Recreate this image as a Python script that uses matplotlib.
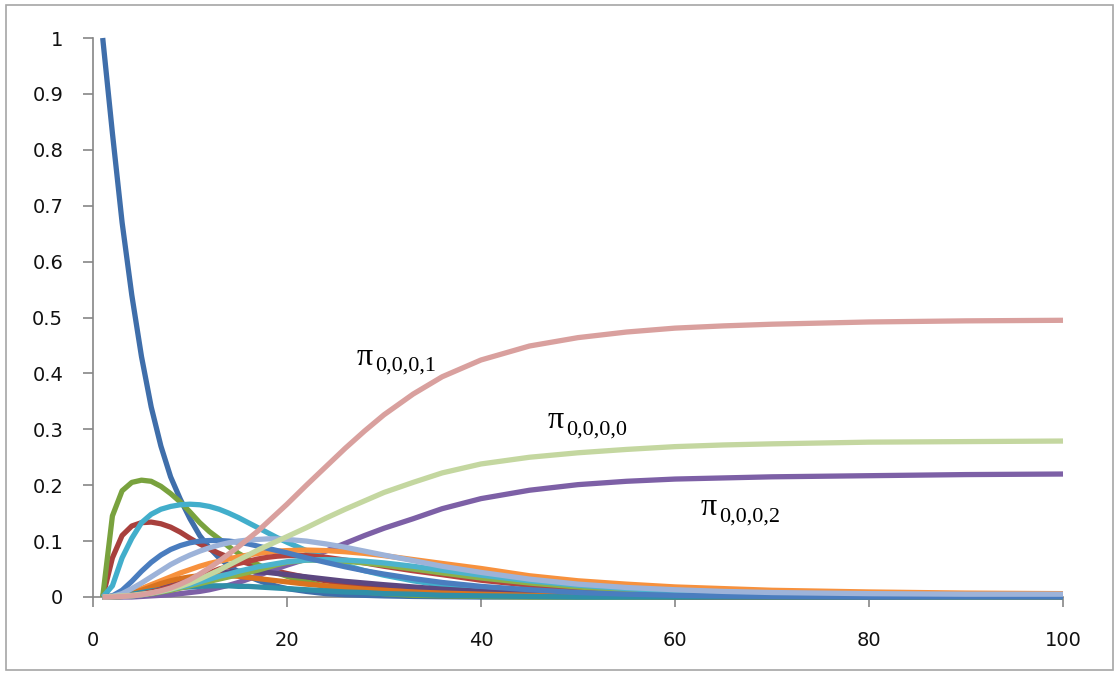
import matplotlib
matplotlib.use("Agg")
import matplotlib.pyplot as plt
from matplotlib.patches import Rectangle

# time steps shared by every series
t = [1, 2, 3, 4, 5, 6, 7, 8, 9, 10, 11, 12, 13, 14, 15, 16, 17, 18, 19, 20,
     22, 24, 26, 28, 30, 33, 36, 40, 45, 50, 55, 60, 65, 70, 80, 90, 100]

p_start = [1.0, .83, .67, .54, .43, .34, .27, .215, .175, .14,
           .11, .088, .07, .056, .045, .037, .03, .024, .019, .015,
           .01, .006, .004, .003, .002, .001, .0005, 0,
           0, 0, 0, 0, 0, 0, 0, 0, 0]
p_green = [0, .145, .19, .205, .209, .207, .198, .185, .17, .152,
           .133, .117, .104, .09, .078, .068, .058, .05, .043, .037,
           .027, .019, .013, .009, .006, .003, .002, .001,
           0, 0, 0, 0, 0, 0, 0, 0, 0]
p_red = [0, .07, .11, .127, .133, .134, .131, .125, .116, .105,
         .095, .086, .078, .071, .065, .06, .055, .05, .046, .042,
         .035, .029, .024, .02, .016, .012, .009, .006,
         .003, .002, .001, 0, 0, 0, 0, 0, 0]
p_0002 = [0, 0, 0, 0, .001, .002, .003, .004, .006, .008,
          .01, .013, .017, .021, .026, .032, .038, .045, .051, .057,
          .068, .082, .096, .11, .123, .14, .158, .176,
          .191, .201, .207, .211, .213, .215, .217, .219, .22]
p_cyan = [0, .02, .07, .105, .133, .148, .157, .162, .165, .166,
          .165, .162, .157, .15, .142, .133, .124, .115, .106, .098,
          .083, .069, .057, .047, .039, .029, .021, .014,
          .008, .005, .003, .002, .001, 0, 0, 0, 0]
p_orange = [0, .001, .004, .009, .015, .022, .029, .036, .043, .049,
            .055, .06, .064, .068, .072, .075, .078, .08, .082, .083,
            .084, .083, .081, .078, .074, .067, .06, .051,
            .038, .029, .023, .018, .015, .012, .009, .007, .006]
p_dpurple = [0, .001, .002, .004, .008, .013, .018, .023, .028, .033,
             .037, .04, .043, .045, .046, .046, .045, .044, .042, .04,
             .036, .032, .028, .025, .022, .018, .014, .01,
             .006, .004, .002, .001, 0, 0, 0, 0, 0]
p_dorange = [0, .001, .003, .007, .012, .018, .024, .029, .033, .036,
             .038, .039, .039, .038, .037, .035, .033, .031, .029, .027,
             .023, .02, .017, .014, .012, .009, .007, .005,
             .003, .002, .001, .001, 0, 0, 0, 0, 0]
p_teal = [0, .001, .002, .005, .008, .011, .013, .015, .017, .018,
          .019, .02, .02, .02, .019, .019, .018, .017, .016, .015,
          .013, .011, .009, .008, .006, .005, .003, .002,
          .001, 0, 0, 0, 0, 0, 0, 0, 0]
p_red2 = [0, 0, .001, .003, .005, .009, .013, .018, .024, .03,
          .037, .043, .05, .055, .06, .064, .068, .071, .073, .074,
          .074, .071, .066, .061, .055, .047, .04, .03,
          .021, .014, .009, .006, .004, .003, .001, .001, 0]
p_olive = [0, 0, .001, .002, .004, .006, .009, .012, .016, .02,
           .024, .028, .032, .036, .04, .044, .048, .053, .058, .062,
           .066, .066, .064, .061, .057, .05, .043, .034,
           .025, .018, .012, .008, .005, .003, .001, 0, 0]
p_cyan2 = [0, 0, .001, .002, .004, .007, .01, .014, .018, .022,
           .027, .032, .037, .041, .046, .05, .054, .057, .06, .063,
           .066, .067, .066, .064, .061, .055, .048, .039,
           .029, .021, .015, .01, .007, .005, .002, .001, .001]
p_blue = [0, .002, .012, .028, .046, .062, .075, .085, .092, .097,
          .1, .101, .101, .1, .098, .095, .091, .087, .083, .079,
          .07, .062, .054, .047, .041, .033, .026, .019,
          .013, .008, .005, .003, .002, .001, 0, 0, 0]
p_lav = [0, .001, .006, .015, .025, .036, .047, .058, .067, .075,
         .082, .088, .093, .097, .1, .102, .103, .104, .104, .103,
         .1, .095, .089, .082, .075, .065, .055, .044,
         .032, .023, .017, .013, .01, .008, .006, .005, .005]
p_0000 = [0, .001, .002, .003, .005, .007, .01, .014, .019, .025,
          .032, .04, .048, .057, .066, .075, .084, .092, .1, .108,
          .124, .141, .157, .172, .187, .205, .222, .238,
          .25, .258, .264, .269, .272, .274, .277, .278, .279]
p_0001 = [0, 0, .001, .002, .004, .007, .011, .016, .023, .031,
          .041, .052, .064, .077, .09, .104, .118, .134, .15, .166,
          .2, .233, .266, .297, .326, .363, .394, .424,
          .449, .464, .474, .481, .485, .488, .492, .494, .495]

x_ticks = [0, 20, 40, 60, 80, 100]
y_ticks = [0, 0.1, 0.2, 0.3, 0.4, 0.5, 0.6, 0.7, 0.8, 0.9, 1]
y_labels = ["0", "0.1", "0.2", "0.3", "0.4", "0.5", "0.6", "0.7", "0.8", "0.9", "1"]

series = [
    (p_start, "#3F6EAA"),
    (p_red, "#A8403D"),
    (p_green, "#79A23E"),
    (p_0002, "#7D60A6"),
    (p_cyan, "#42AECB"),
    (p_orange, "#F7913D"),
    (p_dpurple, "#5C4780"),
    (p_dorange, "#D9731F"),
    (p_teal, "#2F8FA8"),
    (p_red2, "#B5433F"),
    (p_olive, "#8CB14A"),
    (p_cyan2, "#4CB3CD"),
    (p_blue, "#4A7DBF"),
    (p_lav, "#9DB3D9"),
    (p_0000, "#C4D7A0"),
    (p_0001, "#D9A09E"),
]

W, H = 1119, 675
fig = plt.figure(figsize=(W / 100, H / 100), dpi=100)
fig.patch.set_facecolor("white")

# thin frame around the chart area
fig.add_artist(Rectangle((6 / W, 5 / H), (1113 - 6) / W, (670 - 5) / H,
                         transform=fig.transFigure, fill=False,
                         edgecolor="#A6A6A6", linewidth=1.2))

ax = fig.add_axes([93 / W, 1 - 597 / H, (1063 - 93) / W, (597 - 38) / H])

for vals, col in series:
    ax.plot(t, vals, color=col, linewidth=3.8, solid_capstyle="butt",
            solid_joinstyle="round", clip_on=False)

ax.set_xlim(0, 100)
ax.set_ylim(0, 1)
ax.set_xticks(x_ticks)
ax.set_xticklabels([str(v) for v in x_ticks])
ax.set_yticks(y_ticks)
ax.set_yticklabels(y_labels)

for side in ("top", "right"):
    ax.spines[side].set_visible(False)
for side in ("left", "bottom"):
    ax.spines[side].set_color("#868686")
    ax.spines[side].set_linewidth(1.2)
    ax.spines[side].set_zorder(0.5)

ax.tick_params(axis="both", direction="out", length=7.5, width=1.2,
               color="#868686", labelsize=14, labelcolor="#111111")
ax.tick_params(axis="y", pad=14)
ax.tick_params(axis="x", pad=17)

# state labels: pi with a subscript index
serif = ["Liberation Serif", "DejaVu Serif"]
labels = [
    ((27.2, 0.415), (29.1, 0.405), "0,0,0,1"),
    ((46.9, 0.302), (48.8, 0.291), "0,0,0,0"),
    ((62.6, 0.147), (64.5, 0.135), "0,0,0,2"),
]
for (px, py), (sx, sy), sub in labels:
    ax.text(px, py, "\u03c0", family=serif, fontsize=23, ha="left",
            va="baseline", color="black")
    ax.text(sx, sy, sub, family=serif, fontsize=16, ha="left",
            va="baseline", color="black")

fig.savefig("out.png", dpi=100, facecolor="white")
